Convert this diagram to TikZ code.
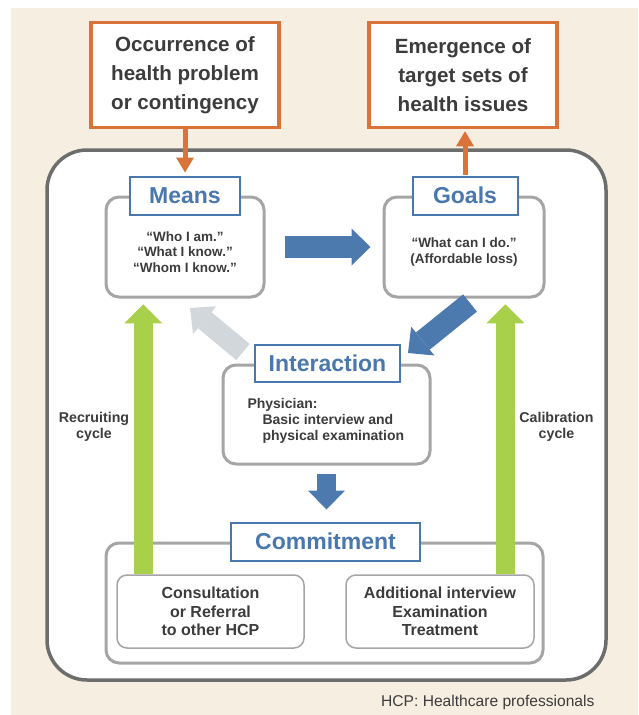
\documentclass[tikz,border=0pt]{standalone}
\usepackage{fontspec}
\setmainfont{Liberation Sans}
\usetikzlibrary{arrows.meta,positioning}

\definecolor{bgbeige}{HTML}{F6EEE1}
\definecolor{orangeline}{HTML}{D9733A}
\definecolor{titleblue}{HTML}{4A78AE}
\definecolor{arrowblue}{HTML}{4C79AE}
\definecolor{cyclegreen}{HTML}{A9D04A}
\definecolor{palegray}{HTML}{D2D7DB}
\definecolor{boxgray}{HTML}{A5A5A5}
\definecolor{framegray}{HTML}{6D6D6D}
\definecolor{textgray}{HTML}{3C3C3C}

\tikzset{
    eventbox/.style={draw=orangeline, line width=3.5pt, fill=white, minimum width=188pt, minimum height=105pt,
        align=center, text=textgray, font=\bfseries\fontsize{20.6}{29}\selectfont},
    stagebox/.style={draw=boxgray, line width=3pt, rounded corners=13pt, fill=white},
    stagetitle/.style={draw=titleblue, line width=2pt, fill=white, text=titleblue, minimum height=38pt,
        font=\bfseries\fontsize{23}{26}\selectfont},
    stagetext/.style={align=center, text=textgray, font=\bfseries\fontsize{13.5}{15.5}\selectfont},
    actionbox/.style={draw=boxgray, line width=1.5pt, rounded corners=10pt, fill=white, minimum width=187pt,
        minimum height=73pt, align=center, text=textgray, font=\bfseries\fontsize{16}{18.7}\selectfont},
    cyclelabel/.style={align=center, text=textgray, font=\bfseries\fontsize{14.2}{16}\selectfont},
    orangearrow/.style={draw=orangeline, line width=5pt, -{Triangle[length=15pt,width=18pt,line width=0pt]}},
    bluearrow/.style={draw=arrowblue, line width=22pt, -{Triangle[length=19pt,width=37pt,line width=0pt]}},
    palearrow/.style={draw=palegray, line width=21pt, -{Triangle[length=19pt,width=36pt,line width=0pt]}},
    greenarrow/.style={draw=cyclegreen, line width=19pt, -{Triangle[length=19pt,width=38pt,line width=0pt]}},
}

\begin{document}
\begin{tikzpicture}[x=1pt, y=-1pt]
    \useasboundingbox (0,0) rectangle (638,715);
    \fill[bgbeige] (11,8) rectangle (638,715);

    \node[draw=framegray, line width=3.5pt, rounded corners=40pt, fill=white,
        minimum width=559pt, minimum height=530pt] (frame) at (326.5,415) {};

    \node[eventbox] (occur) at (185,75) {Occurrence of\\health problem\\or contingency};
    \node[eventbox] (emerge) at (463,75) {Emergence of\\target sets of\\health issues};

    \node[stagebox, minimum width=158pt, minimum height=100pt] (means) at (185,247) {};
    \node[stagebox, minimum width=160pt, minimum height=100pt] (goals) at (464,247) {};
    \node[stagebox, minimum width=207pt, minimum height=99pt] (inter) at (326.5,414.5) {};
    \node[stagebox, minimum width=437pt, minimum height=120pt] (commit) at (324.5,603) {};

    \node[stagetitle, minimum width=110pt] (meanstitle) at (means.north) {Means};
    \node[stagetitle, minimum width=105pt] (goalstitle) at ([xshift=1pt]goals.north) {Goals};
    \node[stagetitle, minimum width=145pt, minimum height=37pt] (intertitle) at ([xshift=1pt]inter.north) {Interaction};
    \node[stagetitle, minimum width=189pt] (committitle) at ([xshift=1pt]commit.north) {Commitment};

    \node[stagetext] (meanstext) at ([yshift=-5pt]means.center) {“Who I am.”\\“What I know.”\\“Whom I know.”};
    \node[stagetext] (goalstext) at ([yshift=-5pt]goals.center) {“What can I do.”\\(Affordable loss)};
    \node[stagetext, align=left, anchor=west, font=\bfseries\fontsize{14}{16}\selectfont] (intertext) at (244,421)
        {Physician:\\\hspace{15pt}Basic interview and\\\hspace{15pt}physical examination};

    \draw[orangearrow, shorten >=3pt] (occur.south) -- (occur.south |- meanstitle.north);
    \draw[orangearrow, shorten <=1pt, shorten >=2pt] (goalstitle.north) -- (goalstitle.north |- emerge.south);

    \coordinate (backtail) at (243,352);
    \coordinate (backtip) at (190,308);
    \coordinate (feedtail) at (470,303);
    \coordinate (feedtip) at (408,353);

    \draw[bluearrow, shorten <=19.5pt, shorten >=12pt] (means.east) -- (goals.west);
    \draw[palearrow] (backtail) -- (backtip);
    \draw[bluearrow] (feedtail) -- (feedtip);
    \draw[bluearrow, line width=19.5pt, shorten <=8pt, shorten >=12pt] (inter.south) -- (inter.south |- committitle.north);

    \node[actionbox] (consult) at (210.5,611.5) {Consultation\\or Referral\\to other HCP};
    \node[actionbox, minimum width=188pt] (addit) at (440,611.5) {Additional interview\\Examination\\Treatment};

    \draw[greenarrow] ([xshift=27pt]consult.north west) -- ++(0,-270);
    \draw[greenarrow] ([xshift=-29.5pt]addit.north east) -- ++(0,-270);

    \node[cyclelabel] (recruit) at (94,427) {Recruiting\\cycle};
    \node[cyclelabel] (calib) at (556.5,427) {Calibration\\cycle};

    \node[anchor=east, text=textgray, font=\fontsize{15.6}{18}\selectfont] (hcpnote) at (598,702) {HCP: Healthcare professionals};
\end{tikzpicture}
\end{document}
